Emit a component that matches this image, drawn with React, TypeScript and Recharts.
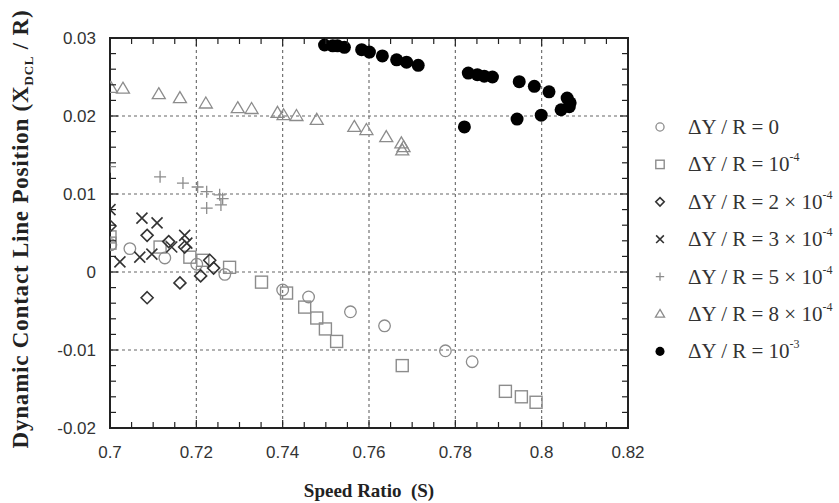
import React from 'react';
import { ScatterChart, Scatter, XAxis, YAxis, CartesianGrid, ReferenceArea } from 'recharts';

// speed ratio (s) vs dynamic contact line position (p)
const dyr0 = [
  { s: 0.7002, p: 0.0035 }, { s: 0.7046, p: 0.003 }, { s: 0.7127, p: 0.0018 },
  { s: 0.7201, p: 0.001 }, { s: 0.7266, p: -0.0003 }, { s: 0.74, p: -0.0023 },
  { s: 0.746, p: -0.0032 }, { s: 0.7557, p: -0.0051 }, { s: 0.7636, p: -0.0069 },
  { s: 0.7777, p: -0.0101 }, { s: 0.7839, p: -0.0115 },
];
const dyr1e4 = [
  { s: 0.7, p: 0.0045 }, { s: 0.7, p: 0.0037 }, { s: 0.7116, p: 0.0032 },
  { s: 0.7185, p: 0.0019 }, { s: 0.7215, p: 0.0015 }, { s: 0.7277, p: 0.0006 },
  { s: 0.7351, p: -0.0013 }, { s: 0.7409, p: -0.0027 }, { s: 0.7451, p: -0.0045 },
  { s: 0.7479, p: -0.0059 }, { s: 0.7499, p: -0.0073 }, { s: 0.7525, p: -0.0089 },
  { s: 0.7677, p: -0.012 }, { s: 0.7916, p: -0.0153 }, { s: 0.7953, p: -0.016 },
  { s: 0.7987, p: -0.0167 },
];
const dyr2e4 = [
  { s: 0.7, p: 0.0059 }, { s: 0.7086, p: 0.0047 }, { s: 0.7136, p: 0.0039 },
  { s: 0.7173, p: 0.0032 }, { s: 0.7231, p: 0.0015 }, { s: 0.724, p: 0.0005 },
  { s: 0.721, p: -0.0005 }, { s: 0.7162, p: -0.0014 }, { s: 0.7086, p: -0.0033 },
];
const dyr3e4 = [
  { s: 0.7, p: 0.008 }, { s: 0.7074, p: 0.0069 }, { s: 0.7109, p: 0.0063 },
  { s: 0.7023, p: 0.0013 }, { s: 0.7069, p: 0.0019 }, { s: 0.7097, p: 0.0023 },
  { s: 0.7143, p: 0.0032 }, { s: 0.7173, p: 0.0047 }, { s: 0.7178, p: 0.0037 },
];
const dyr5e4 = [
  { s: 0.7, p: 0.0135 }, { s: 0.7116, p: 0.0122 }, { s: 0.7169, p: 0.0114 },
  { s: 0.7203, p: 0.0109 }, { s: 0.7224, p: 0.0103 }, { s: 0.7254, p: 0.0099 },
  { s: 0.7261, p: 0.0094 }, { s: 0.7224, p: 0.0082 }, { s: 0.7257, p: 0.0086 },
];
const dyr8e4 = [
  { s: 0.7002, p: 0.0236 }, { s: 0.703, p: 0.0235 }, { s: 0.7113, p: 0.0228 },
  { s: 0.7162, p: 0.0223 }, { s: 0.7222, p: 0.0216 }, { s: 0.7296, p: 0.021 },
  { s: 0.7328, p: 0.0209 }, { s: 0.7388, p: 0.0204 }, { s: 0.7402, p: 0.0201 },
  { s: 0.7432, p: 0.02 }, { s: 0.7479, p: 0.0195 }, { s: 0.7566, p: 0.0186 },
  { s: 0.7594, p: 0.0182 }, { s: 0.764, p: 0.0173 }, { s: 0.7675, p: 0.0165 },
  { s: 0.768, p: 0.016 }, { s: 0.7677, p: 0.0156 },
];
const dyr1e3 = [
  { s: 0.7497, p: 0.0291 }, { s: 0.7516, p: 0.029 }, { s: 0.7527, p: 0.029 },
  { s: 0.7543, p: 0.0288 }, { s: 0.7583, p: 0.0285 }, { s: 0.7601, p: 0.0282 },
  { s: 0.7631, p: 0.0277 }, { s: 0.7664, p: 0.0272 }, { s: 0.7687, p: 0.0269 },
  { s: 0.7714, p: 0.0265 }, { s: 0.783, p: 0.0255 }, { s: 0.7851, p: 0.0253 },
  { s: 0.7867, p: 0.0251 }, { s: 0.7886, p: 0.025 }, { s: 0.7948, p: 0.0244 },
  { s: 0.7983, p: 0.0238 }, { s: 0.8017, p: 0.0231 }, { s: 0.8059, p: 0.0223 },
  { s: 0.8066, p: 0.0217 }, { s: 0.8064, p: 0.0212 }, { s: 0.8045, p: 0.0208 },
  { s: 0.7999, p: 0.0201 }, { s: 0.7943, p: 0.0196 }, { s: 0.7821, p: 0.0186 },
];

const xMajor = [0.7, 0.72, 0.74, 0.76, 0.78, 0.8, 0.82];
const xMinor = [
  0.7, 0.705, 0.71, 0.715, 0.72, 0.725, 0.73, 0.735, 0.74, 0.745, 0.75, 0.755, 0.76,
  0.765, 0.77, 0.775, 0.78, 0.785, 0.79, 0.795, 0.8, 0.805, 0.81, 0.815, 0.82,
];
const yMajor = [-0.02, -0.01, 0, 0.01, 0.02, 0.03];
const yMinor = [
  -0.02, -0.018, -0.016, -0.014, -0.012, -0.01, -0.008, -0.006, -0.004, -0.002, 0,
  0.002, 0.004, 0.006, 0.008, 0.01, 0.012, 0.014, 0.016, 0.018, 0.02, 0.022, 0.024,
  0.026, 0.028, 0.03,
];

const legendLabels = [
  { base: '\u0394Y / R = 0', sup: '' },
  { base: '\u0394Y / R = 10', sup: '-4' },
  { base: '\u0394Y / R = 2 \u00d7 10', sup: '-4' },
  { base: '\u0394Y / R = 3 \u00d7 10', sup: '-4' },
  { base: '\u0394Y / R = 5 \u00d7 10', sup: '-4' },
  { base: '\u0394Y / R = 8 \u00d7 10', sup: '-4' },
  { base: '\u0394Y / R = 10', sup: '-3' },
];

const GRAY = '#8c8c8c';
const DARK = '#333';
const FRAME = '#222';
const SERIF = 'Liberation Serif, Times New Roman, serif';
const SANS = 'Liberation Sans, Arial, sans-serif';

// plot box (set by the chart margins below)
const PLOT_TOP = 38;
const PLOT_RIGHT = 628;
const MARGIN_X = 18;
const MARGIN_Y = 14;

const Marker = ({ kind, cx, cy, scale = 1 }: any) => {
  const k = scale;
  switch (kind) {
    case 'circle':
      return <circle cx={cx} cy={cy} r={5.8 * k} fill="none" stroke={GRAY} strokeWidth={1.3} />;
    case 'square':
      return <rect x={cx - 6 * k} y={cy - 6 * k} width={12 * k} height={12 * k} fill="none" stroke={GRAY} strokeWidth={1.4} />;
    case 'diamond':
      return (
        <path d={`M${cx},${cy - 6 * k}L${cx + 6 * k},${cy}L${cx},${cy + 6 * k}L${cx - 6 * k},${cy}Z`}
          fill="none" stroke={DARK} strokeWidth={1.6} />
      );
    case 'cross':
      return (
        <path d={`M${cx - 5.5 * k},${cy - 5.5 * k}L${cx + 5.5 * k},${cy + 5.5 * k}M${cx - 5.5 * k},${cy + 5.5 * k}L${cx + 5.5 * k},${cy - 5.5 * k}`}
          stroke={DARK} strokeWidth={1.6} />
      );
    case 'plus':
      return (
        <path d={`M${cx - 6 * k},${cy}L${cx + 6 * k},${cy}M${cx},${cy - 6 * k}L${cx},${cy + 6 * k}`}
          stroke={GRAY} strokeWidth={1.3} />
      );
    case 'triangle':
      return (
        <path d={`M${cx},${cy - 6.5 * k}L${cx + 6.5 * k},${cy + 4.5 * k}L${cx - 6.5 * k},${cy + 4.5 * k}Z`}
          fill="none" stroke={GRAY} strokeWidth={1.3} />
      );
    default:
      return <circle cx={cx} cy={cy} r={6.5 * k} fill="#000" />;
  }
};

const series = [
  { data: dyr0, kind: 'circle' },
  { data: dyr1e4, kind: 'square' },
  { data: dyr2e4, kind: 'diamond' },
  { data: dyr3e4, kind: 'cross' },
  { data: dyr5e4, kind: 'plus' },
  { data: dyr8e4, kind: 'triangle' },
  { data: dyr1e3, kind: 'dot' },
];

// bottom axis tick: label for majors, inward marks at bottom and top
const XTick = ({ x, y, payload }: any) => {
  const v = payload.value;
  const major = xMajor.includes(v);
  const len = major ? 8 : 6;
  const base = y - MARGIN_X;
  return (
    <g>
      {major && (
        <text x={x} y={y} dy="0.71em" textAnchor="middle" fill="#333" fontSize={17} fontFamily={SANS}>
          {String(v)}
        </text>
      )}
      <line x1={x} x2={x} y1={base} y2={base - len} stroke={FRAME} strokeWidth={1.2} />
      <line x1={x} x2={x} y1={PLOT_TOP} y2={PLOT_TOP + len} stroke={FRAME} strokeWidth={1.2} />
    </g>
  );
};

// left axis tick: label for majors, inward marks at left and right
const YTick = ({ x, y, payload }: any) => {
  const v = payload.value;
  const major = yMajor.includes(v);
  const len = major ? 8 : 6;
  const base = x + MARGIN_Y;
  return (
    <g>
      {major && (
        <text x={x} y={y} dy="0.355em" textAnchor="end" fill="#333" fontSize={17} fontFamily={SANS}>
          {String(v)}
        </text>
      )}
      <line x1={base} x2={base + len} y1={y} y2={y} stroke={FRAME} strokeWidth={1.2} />
      <line x1={PLOT_RIGHT} x2={PLOT_RIGHT - len} y1={y} y2={y} stroke={FRAME} strokeWidth={1.2} />
    </g>
  );
};

export default function App() {
  return (
    <div style={{ position: 'relative', width: 839, height: 503, background: '#fff' }}>
      <style>{'body{margin:0}'}</style>
      <ScatterChart width={839} height={503} margin={{ top: PLOT_TOP, right: 839 - PLOT_RIGHT, bottom: 35, left: 50 }}>
        <CartesianGrid stroke="#666" strokeDasharray="3 3" strokeWidth={1.1}
          horizontalValues={yMajor} verticalValues={xMajor} />
        <XAxis type="number" dataKey="s" domain={[0.7, 0.82]} ticks={xMinor} allowDataOverflow
          height={40} tickSize={0} tickMargin={MARGIN_X} tick={<XTick />}
          axisLine={false} tickLine={false} interval={0} />
        <YAxis type="number" dataKey="p" domain={[-0.02, 0.03]} ticks={yMinor} allowDataOverflow
          width={60} tickSize={0} tickMargin={MARGIN_Y} tick={<YTick />}
          axisLine={false} tickLine={false} interval={0} />
        <ReferenceArea x1={0.7} x2={0.82} y1={-0.02} y2={0.03} fill="none" fillOpacity={0}
          stroke={FRAME} strokeWidth={2} />

        {series.map((sr) => (
          <Scatter key={sr.kind} data={sr.data} isAnimationActive={false}
            shape={(p: any) => <Marker kind={sr.kind} cx={p.cx} cy={p.cy} />} />
        ))}
      </ScatterChart>

      <svg width={839} height={503} style={{ position: 'absolute', left: 0, top: 0, pointerEvents: 'none' }}>
        <text x={369} y={497} textAnchor="middle" fontFamily={SERIF}
          fontWeight="bold" fontSize={19} fill="#222" style={{ whiteSpace: 'pre' }}>
          {'Speed Ratio  (S)'}
        </text>
        <text transform="translate(28,229) rotate(-90)" textAnchor="middle"
          fontFamily={SERIF} fontWeight="bold" fontSize={23} fill="#222" letterSpacing={0.8}>
          Dynamic Contact Line Position (X
          <tspan fontSize={13} dy={5}>DCL</tspan>
          <tspan dy={-5}> / R)</tspan>
        </text>

        {series.map((sr, i) => {
          const y = 127 + i * 37.4;
          const lab = legendLabels[i];
          return (
            <g key={sr.kind}>
              <Marker kind={sr.kind} cx={660} cy={y} scale={0.7} />
              <text x={688} y={y + 7} fontFamily={SERIF} fontSize={21} fill="#333">
                {lab.base}
                {lab.sup && <tspan fontSize={12} dy={-10}>{lab.sup}</tspan>}
              </text>
            </g>
          );
        })}
      </svg>
    </div>
  );
}
